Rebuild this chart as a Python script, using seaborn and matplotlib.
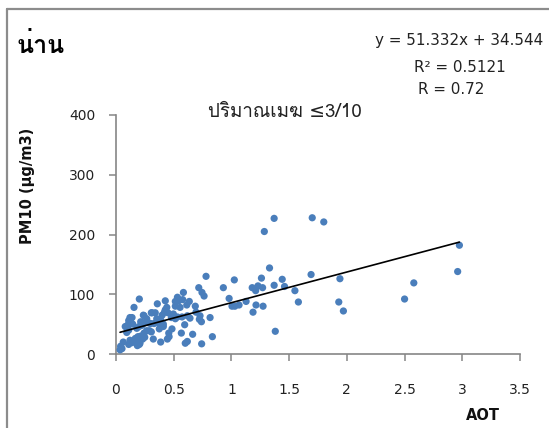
import matplotlib
matplotlib.use("Agg")
import matplotlib.pyplot as plt
from matplotlib import font_manager
from matplotlib.ft2font import FT2Font
from matplotlib.lines import Line2D
import numpy as np
import pandas as pd
import seaborn as sns

# ---------------- data ----------------
aot = [1.37, 1.70, 1.80, 1.285, 1.33, 1.69, 1.94, 1.025, 0.93, 1.26, 1.44, 1.18, 1.23,
       1.27, 1.21, 1.37, 1.46, 1.55, 0.98, 1.58, 1.93, 1.97, 1.005, 1.03, 1.066, 1.127,
       1.213, 1.274, 1.187, 1.38, 2.50, 2.58, 2.975, 2.96,
       0.78, 0.717, 0.745, 0.763, 0.584, 0.532, 0.514, 0.543, 0.578, 0.635, 0.687, 0.693,
       0.74, 0.815, 0.835, 0.742, 0.664, 0.618, 0.60, 0.566, 0.595, 0.641, 0.572, 0.532,
       0.555, 0.514, 0.613, 0.427, 0.44, 0.42, 0.40, 0.48, 0.41, 0.457, 0.46, 0.445,
       0.387, 0.358, 0.312, 0.353, 0.33, 0.266, 0.243, 0.289, 0.306, 0.323, 0.202, 0.156,
       0.139, 0.121, 0.11, 0.127, 0.145, 0.098, 0.11, 0.093, 0.18, 0.20, 0.225, 0.214,
       0.19, 0.167, 0.121, 0.139, 0.11, 0.202, 0.18, 0.04, 0.052, 0.035, 0.243, 0.266,
       0.283, 0.387, 0.514, 0.728, 0.722, 0.497, 0.618, 0.306, 0.34, 0.45, 0.427, 0.237,
       0.214, 0.249, 0.30, 0.37, 0.41, 0.104, 0.231, 0.249, 0.063, 0.208, 0.185, 0.08,
       0.375, 0.485]
pm10 = [227, 228, 221, 205, 144, 133, 126, 124, 111, 127, 125, 111, 114,
        111, 106, 115, 113, 106, 93, 87, 87, 72, 80, 80, 82, 88,
        82, 80, 70, 38, 92, 119, 182, 138,
        130, 111, 103, 97, 103, 95, 88, 89, 91, 88, 80, 70,
        54, 61, 29, 17, 33, 21, 18, 35, 49, 60, 62, 62,
        78, 80, 82, 89, 78, 70, 65, 61, 46, 35, 29, 25,
        20, 84, 69, 59, 51, 59, 64, 39, 37, 25, 92, 78,
        61, 61, 56, 54, 50, 42, 40, 36, 43, 46, 48, 30,
        29, 26, 23, 19, 16, 16, 19, 13, 9, 7, 35, 39,
        52, 57, 59, 64, 58, 67, 64, 69, 69, 69, 74, 65,
        54, 52, 51, 52, 50, 49, 25, 28, 20, 18, 14, 46,
        42, 42]

slope = 51.332
intercept = 34.544
eq_text = "y = 51.332x + 34.544"
r2_text = "R² = 0.5121"
r_text = "R = 0.72"
title_text = "น่าน"
subtitle_text = "ปริมาณเมฆ ≤3/10"
xlabel = "AOT"
ylabel = "PM10 (μg/m3)"
xticks = [0, 0.5, 1, 1.5, 2, 2.5, 3, 3.5]
xticklabels = ["0", "0.5", "1", "1.5", "2", "2.5", "3", "3.5"]
yticks = [0, 100, 200, 300, 400]

# ---------------- fonts ----------------
def find_font_with(chars):
    names = []
    for f in font_manager.fontManager.ttflist:
        try:
            cmap = FT2Font(f.fname).get_charmap()
        except Exception:
            continue
        if all(ord(c) in cmap for c in chars):
            if f.name not in names:
                names.append(f.name)
    return names

sns.set_theme(style="white")
plt.rcParams["font.family"] = ["DejaVu Sans"]
thai_fonts = find_font_with("นาปริมณเฆ")
thai_family = (thai_fonts[:1] if thai_fonts else []) + ["DejaVu Sans"]

blue = "#4A7EBB"
grey = "#868686"
txt = "#222222"

df = pd.DataFrame({"AOT": aot, "PM10": pm10})

fig = plt.figure(figsize=(5.49, 4.28), dpi=100)
ax = fig.add_axes([116 / 549, 1 - 354 / 428, 404 / 549, 239 / 428])

sns.scatterplot(data=df, x="AOT", y="PM10", ax=ax, color=blue, s=27,
                edgecolor="none", linewidth=0, zorder=3)

xs = np.array([df["AOT"].min(), df["AOT"].max()])
ax.plot(xs, slope * xs + intercept, color="black", lw=1.2, zorder=4)

ax.set_xlim(0, 3.5)
ax.set_ylim(0, 400)
ax.set_xticks(xticks)
ax.set_xticklabels(xticklabels)
ax.set_yticks(yticks)

for side in ["top", "right"]:
    ax.spines[side].set_visible(False)
for side in ["left", "bottom"]:
    ax.spines[side].set_color(grey)
    ax.spines[side].set_linewidth(1.2)

ax.tick_params(axis="both", direction="out", length=5, width=1.1, color=grey,
               labelsize=10, labelcolor=txt)
ax.tick_params(axis="x", pad=16)
ax.tick_params(axis="y", pad=10)
ax.tick_params(axis="both", which="both", bottom=True, left=True)

ax.set_xlabel(xlabel, fontsize=10.5, fontweight="bold", color="#111111")
ax.set_ylabel(ylabel, fontsize=10.5, fontweight="bold", color="#111111")
ax.xaxis.label.set_va("center")
ax.yaxis.label.set_va("center")
ax.xaxis.set_label_coords(0.908, -0.259)
ax.yaxis.set_label_coords(-0.218, 0.703)

# texts
fig.text(17 / 549, 1 - 53 / 428, title_text, fontsize=18, fontweight="bold",
         ha="left", va="baseline", color="black", family=thai_family)
fig.text(459 / 549, 1 - 40 / 428, eq_text, fontsize=10.9, ha="center", va="center",
         color=txt)
fig.text(460 / 549, 1 - 67 / 428, r2_text, fontsize=10.9, ha="center", va="center",
         color=txt)
fig.text(451 / 549, 1 - 90 / 428, r_text, fontsize=10.9, ha="center", va="center",
         color=txt)
fig.text(285 / 549, 1 - 112 / 428, subtitle_text, fontsize=13.5, ha="center",
         va="center", color=txt, family=thai_family)

# outer frame lines
fig.add_artist(Line2D([7 / 549, 7 / 549], [0, 1 - 9 / 428], transform=fig.transFigure,
                      color="#8C8C8C", lw=1.6))
fig.add_artist(Line2D([7 / 549, 1], [1 - 9 / 428, 1 - 9 / 428], transform=fig.transFigure,
                      color="#8C8C8C", lw=1.6))

fig.savefig("out.png", dpi=100)
